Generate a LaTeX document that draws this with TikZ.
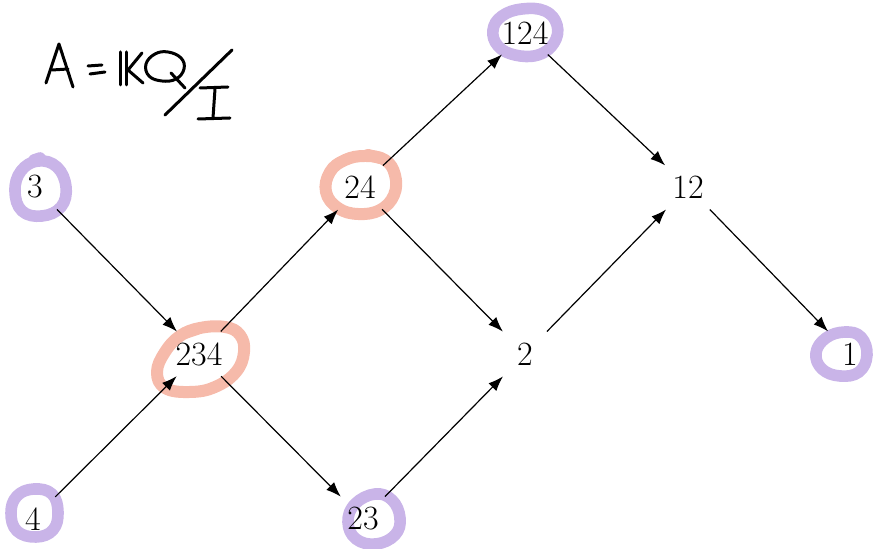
\documentclass[tikz,border=0pt]{standalone}
\usetikzlibrary{arrows.meta}
\definecolor{lav}{RGB}{201,180,232}
\definecolor{salm}{RGB}{246,186,170}
\begin{document}
\begin{tikzpicture}[x=0.5pt,y=-0.5pt,
  lbl/.style={circle,inner sep=0pt,minimum size=31pt,font=\fontsize{17}{20}\selectfont},
  edge/.style={-{Latex[length=7.5pt,width=5.5pt]},line width=0.6pt},
  loopP/.style={draw=lav,line width=5.8pt,line cap=round,line join=round},
  loopS/.style={draw=salm,line width=6pt,line cap=round,line join=round},
  hand/.style={line width=1.5pt,line cap=round,line join=round}]
\useasboundingbox (0,0) rectangle (875,549);

% hand-drawn loops
\draw[loopP] plot[smooth cycle,tension=0.7] coordinates {(38,161) (57,167) (66,187) (61,207) (42,216) (22,211) (15,191) (21,171)};
\draw[loopP] (34,160) -- (40,158);
\draw[loopP] plot[smooth cycle,tension=0.7] coordinates {(34,489) (52,494) (58,512) (53,530) (36,537) (17,531) (11,513) (17,496)};
\draw[loopS] plot[smooth cycle,tension=0.7] coordinates {(200,328) (225,327) (240,335) (244,352) (236,372) (215,387) (190,392) (165,388) (157,372) (165,352) (180,336)};
\draw[loopS] (185,333) -- (197,329);
\draw[loopS] plot[smooth cycle,tension=0.7] coordinates {(365,156) (385,160) (395,175) (394,195) (380,210) (358,214) (338,208) (326,192) (330,172) (345,160)};
\draw[loopS] (368,155) -- (380,158);
\draw[loopP] plot[smooth cycle,tension=0.7] coordinates {(522,9) (545,11) (557,25) (554,43) (538,55) (515,55) (498,46) (493,30) (502,16)};
\draw[loopP] plot[smooth cycle,tension=0.7] coordinates {(845,332) (861,337) (867,355) (859,372) (840,376) (822,369) (816,353) (826,338)};
\draw[loopP] plot[smooth cycle,tension=0.7] coordinates {(375,494) (392,500) (400,518) (395,535) (376,544) (356,539) (348,522) (355,504)};

% handwriting  A = kQ / I
\draw[hand] (46,83) -- (59,44) -- (73,87);
\draw[hand] (52,70) -- (68,69);
\draw[hand] (88,66) -- (102,65);
\draw[hand] (90,74) -- (105,72);
\draw[hand] (120,52) -- (120,85);
\draw[hand] (126,52) -- (126,85);
\draw[hand] (142,53) -- (128,70) -- (143,83);
\draw[hand] plot[smooth cycle,tension=0.7] coordinates {(146,64) (155,54) (168,52) (181,58) (184,69) (176,79) (162,81) (149,76)};
\draw[hand] (171,73) -- (185,88);
\draw[hand] (232,50) -- (165,115);
\draw[hand] (200,88) -- (228,87);
\draw[hand] (215,89) -- (213,118);
\draw[hand] (198,119) -- (230,118);

% nodes
\node[lbl] (n3) at (35,187) {3};
\node[lbl] (n4) at (33,519) {4};
\node[lbl] (n234) at (199,354) {234};
\node[lbl] (n24) at (360,187) {24};
\node[lbl] (n23) at (363,519) {23};
\node[lbl] (n124) at (525,33) {124};
\node[lbl] (n2) at (525,354) {2};
\node[lbl] (n12) at (688,187) {12};
\node[lbl] (n1) at (850,354) {1};

% edges
\draw[edge] (n3) -- (n234);
\draw[edge] (n4) -- (n234);
\draw[edge] (n234) -- (n24);
\draw[edge] (n234) -- (n23);
\draw[edge] (n24) -- (n124);
\draw[edge] (n24) -- (n2);
\draw[edge] (n23) -- (n2);
\draw[edge] (n2) -- (n12);
\draw[edge] (n124) -- (n12);
\draw[edge] (n12) -- (n1);
\end{tikzpicture}
\end{document}
